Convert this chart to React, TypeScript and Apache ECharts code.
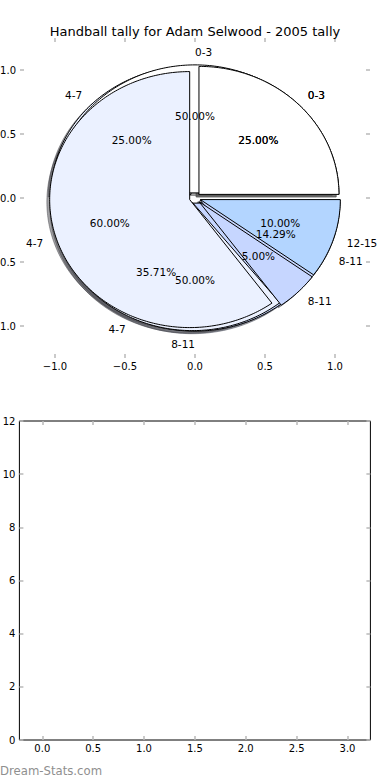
import React, { useEffect, useRef } from "react";
import * as echarts from "echarts";

const TITLE = "Handball tally for Adam Selwood - 2005 tally";
const WATERMARK = "Dream-Stats.com";

// Three pies drawn on top of each other (first drawn first)
const pieALabels = ["0-3", "4-7", "8-11"];
const pieAValues = [25, 25, 50];
const pieBLabels = ["0-3", "4-7", "8-11"];
const pieBValues = [50, 35.71, 14.29];
const pieCLabels = ["0-3", "4-7", "8-11", "12-15"];
const pieCValues = [25, 60, 5, 10];

const categoryColors: Record<string, string> = {
  "0-3": "#ffffff",
  "4-7": "#ebf1ff",
  "8-11": "#c6d6ff",
  "12-15": "#b3d5ff",
};

const pieTicks = [-1, -0.5, 0, 0.5, 1];
const barXTicks = [0, 0.5, 1, 1.5, 2, 2.5, 3];
const barYMin = 0;
const barYMax = 12;
const barYStep = 2;
const barXMin = -0.225;
const barXMax = 3.225;

const EXPLODE = 0.04;
const SHADOW_OFF = -0.02;
const FONT = "DejaVu Sans";

type Wedge = { label: string; pct: number; t1: number; t2: number; tm: number; cx: number; cy: number };

function buildWedges(labels: string[], values: number[]): Wedge[] {
  const total = values.reduce((a, b) => a + b, 0);
  let f1 = 0;
  return values.map((v, i) => {
    const frac = v / total;
    const f2 = f1 + frac;
    const tm = Math.PI * (f1 + f2);
    const w = {
      label: labels[i],
      pct: frac * 100,
      t1: f1 * 2 * Math.PI,
      t2: f2 * 2 * Math.PI,
      tm,
      cx: EXPLODE * Math.cos(tm),
      cy: EXPLODE * Math.sin(tm),
    };
    f1 = f2;
    return w;
  });
}

function shadowColor(hex: string) {
  const r = parseInt(hex.slice(1, 3), 16) * 0.3;
  const g = parseInt(hex.slice(3, 5), 16) * 0.3;
  const b = parseInt(hex.slice(5, 7), 16) * 0.3;
  return `rgba(${Math.round(r)},${Math.round(g)},${Math.round(b)},0.5)`;
}

const fmtPie = (v: number) => (v < 0 ? "\u2212" : "") + Math.abs(v).toFixed(1);

export default function App() {
  const ref = useRef<HTMLDivElement>(null);
  useEffect(() => {
    if (!ref.current) return;
    const chart = echarts.init(ref.current, undefined, { renderer: "svg" });

    const allWedges: Wedge[] = [
      ...buildWedges(pieALabels, pieAValues),
      ...buildWedges(pieBLabels, pieBValues),
      ...buildWedges(pieCLabels, pieCValues),
    ];

    type T = { x: number; y: number; text: string; align: string };
    const texts: T[] = [];
    allWedges.forEach((w) => {
      const lx = w.cx + 1.1 * Math.cos(w.tm);
      const ly = w.cy + 1.1 * Math.sin(w.tm);
      texts.push({ x: lx, y: ly, text: w.label, align: lx > 0 ? "left" : "right" });
      texts.push({
        x: w.cx + 0.6 * Math.cos(w.tm),
        y: w.cy + 0.6 * Math.sin(w.tm),
        text: w.pct.toFixed(2) + "%",
        align: "center",
      });
    });

    const wedgeRender = (shadow: boolean) => (params: any, api: any) => {
      const w = allWedges[params.dataIndex];
      const ox = shadow ? SHADOW_OFF : 0;
      const oy = shadow ? SHADOW_OFF : 0;
      const cx = w.cx + ox;
      const cy = w.cy + oy;
      const pts: number[][] = [api.coord([cx, cy])];
      const n = Math.max(4, Math.ceil(((w.t2 - w.t1) * 180) / Math.PI));
      for (let k = 0; k <= n; k++) {
        const t = w.t1 + ((w.t2 - w.t1) * k) / n;
        pts.push(api.coord([cx + Math.cos(t), cy + Math.sin(t)]));
      }
      const base = categoryColors[w.label];
      const col = shadow ? shadowColor(base) : base;
      return {
        type: "polygon",
        shape: { points: pts },
        style: shadow
          ? { fill: col, stroke: col, lineWidth: 1 }
          : { fill: col, stroke: "#000000", lineWidth: 1 },
      };
    };

    const tickStyle = { color: "#b8b8b8", width: 1.5 };
    const labelStyle = { color: "#000", fontSize: 10, fontFamily: FONT };
    const noLine = { show: false, onZero: false };

    const option: any = {
      animation: false,
      backgroundColor: "#ffffff",
      title: {
        text: TITLE,
        left: "center",
        top: 20,
        textStyle: { fontSize: 13, fontWeight: "normal", color: "#000", fontFamily: FONT },
      },
      graphic: [
        {
          type: "text",
          left: 0,
          top: 765,
          style: { text: WATERMARK, fontSize: 11.7, fontFamily: FONT, fill: "#8f8f8f", fontWeight: "normal" },
        },
      ],
      grid: [
        { left: 20, top: 38, width: 350, height: 320, show: false, outerBoundsMode: "none", containLabel: false },
        {
          left: 19.4, top: 421, width: 351, height: 319, show: true, borderColor: "#000", borderWidth: 1,
          backgroundColor: "transparent", outerBoundsMode: "none", containLabel: false,
        },
      ],
      xAxis: [
        {
          gridIndex: 0, type: "value", min: -1.25, max: 1.25, position: "bottom",
          axisLine: noLine, splitLine: { show: false },
          axisTick: { show: true, inside: true, length: 4, customValues: pieTicks, lineStyle: tickStyle },
          axisLabel: { ...labelStyle, customValues: pieTicks, formatter: fmtPie, margin: 3 },
        },
        {
          gridIndex: 0, type: "value", min: -1.25, max: 1.25, position: "top",
          axisLine: noLine, splitLine: { show: false },
          axisTick: { show: true, inside: true, length: 4, customValues: pieTicks, lineStyle: tickStyle },
          axisLabel: { show: false },
        },
        {
          gridIndex: 1, type: "value", min: barXMin, max: barXMax, position: "bottom",
          axisLine: noLine, splitLine: { show: false },
          axisTick: { show: true, inside: true, length: 4, customValues: barXTicks, lineStyle: tickStyle },
          axisLabel: { ...labelStyle, customValues: barXTicks, formatter: (v: number) => v.toFixed(1), margin: 3 },
        },
        {
          gridIndex: 1, type: "value", min: barXMin, max: barXMax, position: "top",
          axisLine: noLine, splitLine: { show: false },
          axisTick: { show: true, inside: true, length: 4, customValues: barXTicks, lineStyle: tickStyle },
          axisLabel: { show: false },
        },
      ],
      yAxis: [
        {
          gridIndex: 0, type: "value", min: -1.25, max: 1.25, position: "left",
          axisLine: noLine, splitLine: { show: false },
          axisTick: { show: true, inside: true, length: 4, customValues: pieTicks, lineStyle: tickStyle },
          axisLabel: { ...labelStyle, customValues: pieTicks, formatter: fmtPie, margin: 4 },
        },
        {
          gridIndex: 0, type: "value", min: -1.25, max: 1.25, position: "right",
          axisLine: noLine, splitLine: { show: false },
          axisTick: { show: true, inside: true, length: 4, customValues: pieTicks, lineStyle: tickStyle },
          axisLabel: { show: false },
        },
        {
          gridIndex: 1, type: "value", min: barYMin, max: barYMax, interval: barYStep, position: "left",
          axisLine: noLine, splitLine: { show: false },
          axisTick: { show: true, inside: true, length: 4, lineStyle: tickStyle },
          axisLabel: { ...labelStyle, margin: 4 },
        },
        {
          gridIndex: 1, type: "value", min: barYMin, max: barYMax, interval: barYStep, position: "right",
          axisLine: noLine, splitLine: { show: false },
          axisTick: { show: true, inside: true, length: 4, lineStyle: tickStyle },
          axisLabel: { show: false },
        },
      ],
      series: [
        {
          type: "custom", xAxisIndex: 0, yAxisIndex: 0, z: 1, clip: false, silent: true,
          data: allWedges.map((w) => [w.cx, w.cy]),
          renderItem: wedgeRender(true),
        },
        {
          type: "custom", xAxisIndex: 0, yAxisIndex: 0, z: 2, clip: false, silent: true,
          data: allWedges.map((w) => [w.cx, w.cy]),
          renderItem: wedgeRender(false),
        },
        {
          type: "custom", xAxisIndex: 0, yAxisIndex: 0, z: 3, clip: false, silent: true,
          data: texts.map((t) => [t.x, t.y]),
          renderItem: (params: any, api: any) => {
            const t = texts[params.dataIndex];
            const p = api.coord([t.x, t.y]);
            return {
              type: "text",
              x: p[0],
              y: p[1],
              style: {
                text: t.text,
                align: t.align,
                verticalAlign: "middle",
                fontSize: 10.5,
                fontFamily: FONT,
                fill: "#000",
              },
            };
          },
        },
      ],
    };
    chart.setOption(option);
    return () => chart.dispose();
  }, []);
  return (
    <div
      ref={ref}
      style={{ position: "absolute", left: 0, top: 0, width: 390, height: 780, background: "#fff" }}
    />
  );
}
